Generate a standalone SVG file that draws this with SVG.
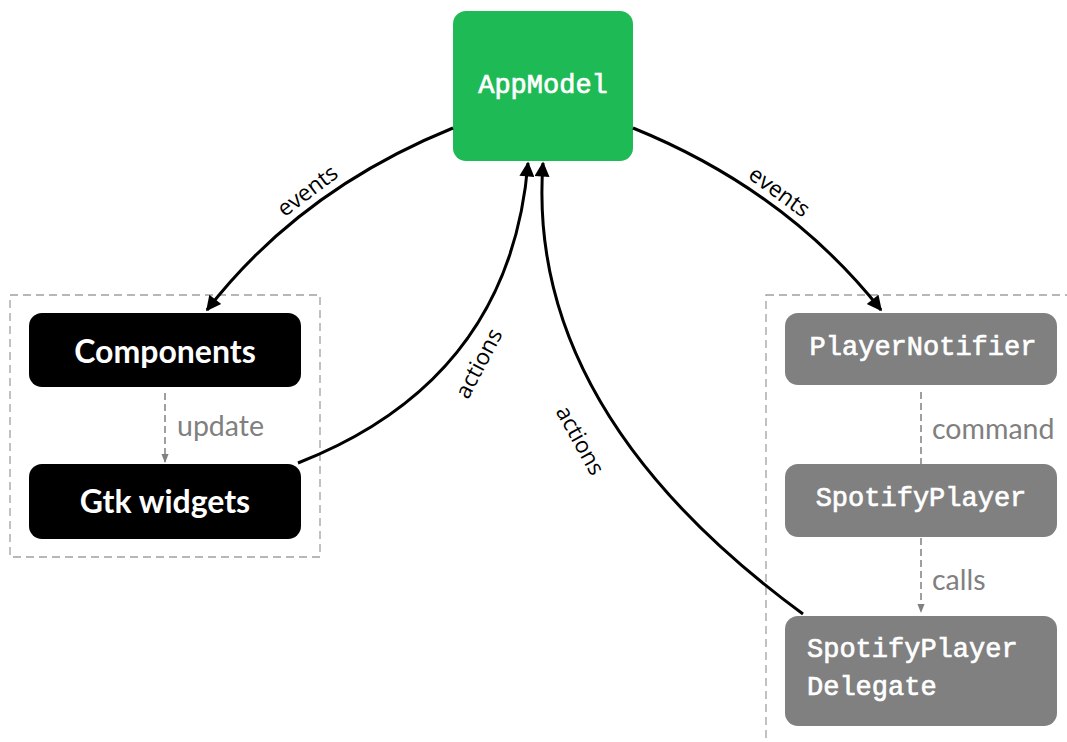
<svg xmlns="http://www.w3.org/2000/svg" width="1067" height="742" viewBox="0 0 1067 742">
<style>
.grp{fill:none;stroke:#a0a0a0;stroke-width:1.3;stroke-dasharray:8,5}
.mono{font-family:"Liberation Mono",monospace;font-weight:normal;font-size:27px;fill:#fff;stroke:#fff;stroke-width:0.7}
.sansb{font-family:Lato,"Liberation Sans",sans-serif;font-weight:bold;font-size:32px;fill:#fff}
.lbl{font-family:Lato,"Liberation Sans",sans-serif;font-size:28.5px;fill:#808080}
.elbl{font-family:"Open Sans","DejaVu Sans",sans-serif;font-size:22.5px;fill:#000}
.conn{fill:none;stroke:#000;stroke-width:3}
.dash{fill:none;stroke:#808080;stroke-width:1.5;stroke-dasharray:7,4}
</style>
<defs>
<marker id="ah" viewBox="0 0 10 10" refX="9" refY="5" markerWidth="5.5" markerHeight="5" markerUnits="strokeWidth" orient="auto">
<path d="M0,0 L10,5 L0,10 Z" fill="#000"/>
</marker>
<marker id="ahg" viewBox="0 0 10 10" refX="9" refY="5" markerWidth="6" markerHeight="6" markerUnits="strokeWidth" orient="auto">
<path d="M0,1 L10,5 L0,9 Z" fill="#808080"/>
</marker>
</defs>
<rect x="0" y="0" width="1067" height="742" fill="#fff"/>
<rect class="grp" x="10" y="295" width="310" height="262"/>
<rect class="grp" x="766" y="295" width="330" height="470"/>
<g id="appmodel">
<rect x="453" y="11" width="180" height="150" rx="13" fill="#1eba55"/>
<text class="mono" x="543" y="86" text-anchor="middle" dominant-baseline="central">AppModel</text>
</g>
<g id="components">
<rect x="29" y="313" width="272" height="74" rx="13" fill="#000"/>
<text class="sansb" x="165" y="350" text-anchor="middle" dominant-baseline="central">Components</text>
</g>
<g id="gtkwidgets">
<rect x="29" y="464" width="272" height="75" rx="13" fill="#000"/>
<text class="sansb" x="165" y="500" text-anchor="middle" dominant-baseline="central">Gtk widgets</text>
</g>
<g id="playernotifier">
<rect x="785" y="313" width="272" height="72" rx="13" fill="#808080"/>
<text class="mono" x="923" y="348" text-anchor="middle" dominant-baseline="central">PlayerNotifier</text>
</g>
<g id="spotifyplayer">
<rect x="785" y="464" width="272" height="73" rx="13" fill="#808080"/>
<text class="mono" x="921" y="499" text-anchor="middle" dominant-baseline="central">SpotifyPlayer</text>
</g>
<g id="delegate">
<rect x="785" y="616" width="272" height="110" rx="13" fill="#808080"/>
<text class="mono" x="807" y="650" dominant-baseline="central">SpotifyPlayer</text>
<text class="mono" x="807" y="688" dominant-baseline="central">Delegate</text>
</g>
<g id="connectors">
<path class="conn" d="M453,128 Q300,190 207,310" marker-end="url(#ah)"/>
<path class="conn" d="M633,128 Q786,190 881,310" marker-end="url(#ah)"/>
<path class="conn" d="M298,463 Q510,380 528,163" marker-end="url(#ah)"/>
<path class="conn" d="M803,614 Q525,410 543,163" marker-end="url(#ah)"/>
<path class="dash" d="M165,393 L165,462" marker-end="url(#ahg)"/>
<path class="dash" d="M921,392 L921,464"/>
<path class="dash" d="M921,538 L921,612" marker-end="url(#ahg)"/>
<text class="elbl" x="307" y="190" text-anchor="middle" dominant-baseline="central" transform="rotate(-37 307 190)">events</text>
<text class="elbl" x="780" y="191" text-anchor="middle" dominant-baseline="central" transform="rotate(36 780 191)">events</text>
<text class="elbl" x="478" y="363" text-anchor="middle" dominant-baseline="central" transform="rotate(-62 478 363)">actions</text>
<text class="elbl" x="581" y="440" text-anchor="middle" dominant-baseline="central" transform="rotate(61 581 440)">actions</text>
<text class="lbl" x="177" y="425" dominant-baseline="central">update</text>
<text class="lbl" x="932" y="428" dominant-baseline="central">command</text>
<text class="lbl" x="932" y="579" dominant-baseline="central">calls</text>
</g>
</svg>
